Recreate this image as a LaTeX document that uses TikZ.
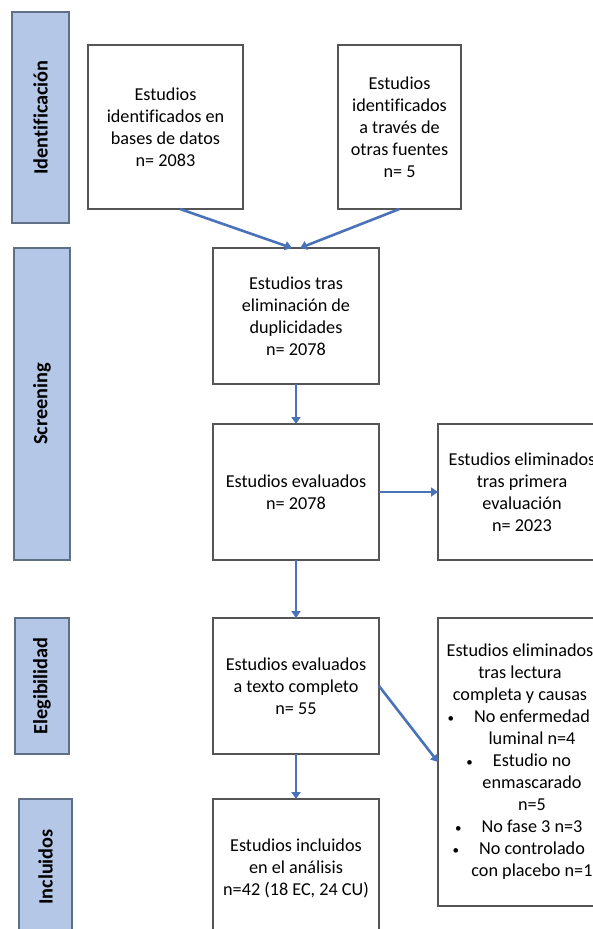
\documentclass[tikz,border=0pt]{standalone}
\usepackage{fontspec}
\setmainfont{Carlito}[Ligatures=NoCommon]
\usetikzlibrary{arrows.meta}
\definecolor{barblue}{HTML}{B4C7E7}
\definecolor{barline}{HTML}{5F6F86}
\definecolor{arrblue}{HTML}{4A72B8}
\definecolor{boxline}{HTML}{555555}
\newcommand{\itm}{\hspace*{24pt}\llap{{\fontsize{13}{13}\selectfont\textbullet}\hspace{20pt}}}
\newcommand{\cnt}{\hspace*{24pt}}
\begin{document}
\begin{tikzpicture}[x=1pt,y=-1pt,
  every node/.style={font=\fontsize{18.2}{22}\selectfont, align=center, outer sep=0pt, inner sep=0pt},
  box/.style={draw=boxline, line width=1.2pt, fill=white},
  bar/.style={draw=barline, line width=1.2pt, fill=barblue, rotate=90,
    font=\bfseries\fontsize{20.3}{24}\selectfont},
  arr/.style={draw=arrblue, line width=2.6pt, -{Triangle[length=7pt,width=9pt]}}]
\useasboundingbox (0,0) rectangle (592,929);
% fases
\node[bar, minimum width=211pt, minimum height=57pt] (idbar) at (40.5,117.5) {Identificación};
\node[bar, minimum width=312pt, minimum height=56pt] (scrbar) at (42,404) {Screening};
\node[bar, minimum width=136pt, minimum height=54pt] (elegbar) at (42,686) {Elegibilidad};
\node[bar, minimum width=136pt, minimum height=53pt] (inclbar) at (45.5,867) {Incluidos};
% cajas
\node[box, minimum width=155pt, minimum height=164pt] (bases) at (165.5,127)
  {Estudios\\identificados en\\bases de datos\\n= 2083};
\node[box, minimum width=123pt, minimum height=164pt] (otras) at (399.5,127)
  {Estudios\\identificados\\a través de\\otras fuentes\\n= 5};
\node[box, minimum width=166pt, minimum height=136pt] (dup) at (296,316)
  {Estudios tras\\eliminación de\\duplicidades\\n= 2078};
\node[box, minimum width=166pt, minimum height=136pt] (evalu) at (296,492)
  {Estudios evaluados\\n= 2078};
\node[box, minimum width=166pt, minimum height=136pt] (full) at (296,686)
  {Estudios evaluados\\a texto completo\\n= 55};
\node[box, minimum width=166pt, minimum height=138pt] (incl) at (296,868)
  {Estudios incluidos\\en el análisis\\n=42 (18 EC, 24 CU)};
\node[box, minimum width=168pt, minimum height=136pt] (elimA) at (522,492)
  {Estudios eliminados\\tras primera\\evaluación\\n= 2023};
\node[box, minimum width=168pt, minimum height=288pt] (elimB) at (522,762) {};
\node (elimBtxt) at (520,762)
  {Estudios eliminados\\tras lectura\\completa y causas\\
   \itm No enfermedad\\\cnt luminal n=4\\\itm Estudio no\\\cnt enmascarado\\\cnt n=5\\
   \itm No fase 3 n=3\\\itm No controlado\\\cnt con placebo n=1};
% flechas
\draw[arr] ([xshift=14.5pt]bases.south) -- ([xshift=-4pt]dup.north);
\draw[arr] (otras.south) -- ([xshift=4pt]dup.north);
\draw[arr] (dup) -- (evalu);
\draw[arr] (evalu) -- (elimA.west);
\draw[arr] (evalu) -- (full);
\draw[arr] (full.east) -- (elimB.west);
\draw[arr] (full) -- (incl);
\end{tikzpicture}
\end{document}
